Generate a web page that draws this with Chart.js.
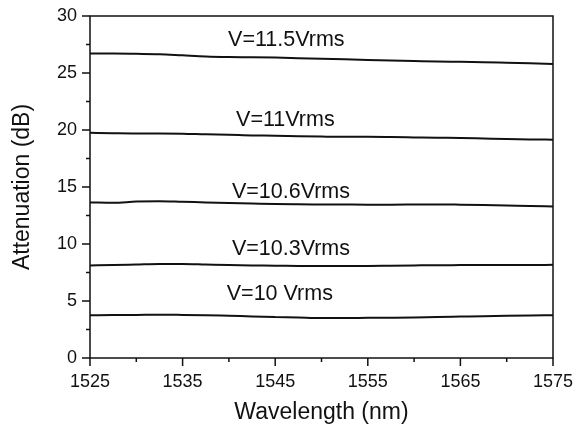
<!DOCTYPE html>
<html>
<head>
<meta charset="utf-8">
<script src="https://cdn.jsdelivr.net/npm/chart.js@4.4.0/dist/chart.umd.min.js"></script>
<style>
  html, body { margin: 0; padding: 0; background: #ffffff; }
  #c { display: block; }
</style>
</head>
<body>
<canvas id="c" width="573" height="429"></canvas>
<script>
// ---- data ----
const wavelength = [1525, 1527.5, 1530, 1532.5, 1535, 1537.5, 1540, 1542.5, 1545, 1547.5, 1550,
                    1552.5, 1555, 1557.5, 1560, 1562.5, 1565, 1567.5, 1570, 1572.5, 1575];
const att_11_5 = [26.70, 26.70, 26.68, 26.65, 26.55, 26.45, 26.40, 26.38, 26.35, 26.30, 26.25,
                  26.20, 26.15, 26.10, 26.05, 26.00, 25.98, 25.95, 25.90, 25.85, 25.80];
const att_11   = [19.75, 19.72, 19.70, 19.70, 19.68, 19.62, 19.58, 19.52, 19.50, 19.45, 19.42,
                  19.40, 19.40, 19.38, 19.35, 19.32, 19.30, 19.25, 19.20, 19.17, 19.15];
const att_10_6 = [13.65, 13.62, 13.72, 13.75, 13.70, 13.65, 13.60, 13.55, 13.50, 13.48, 13.47,
                  13.46, 13.45, 13.45, 13.46, 13.47, 13.45, 13.42, 13.38, 13.33, 13.30];
const att_10_3 = [8.12, 8.15, 8.20, 8.25, 8.25, 8.20, 8.15, 8.12, 8.10, 8.07, 8.06,
                  8.07, 8.08, 8.10, 8.12, 8.14, 8.15, 8.16, 8.16, 8.16, 8.17];
const att_10   = [3.75, 3.77, 3.78, 3.80, 3.78, 3.75, 3.70, 3.65, 3.60, 3.55, 3.50,
                  3.50, 3.52, 3.53, 3.55, 3.60, 3.63, 3.66, 3.70, 3.73, 3.75];

const seriesLabels = ["V=11.5Vrms", "V=11Vrms", "V=10.6Vrms", "V=10.3Vrms", "V=10 Vrms"];
const seriesValues = [att_11_5, att_11, att_10_6, att_10_3, att_10];
// label anchor positions in data units (wavelength, attenuation at text baseline)
const labelX = [1546.2, 1546.1, 1546.7, 1546.7, 1545.5];
const labelY = [27.37, 20.35, 14.07, 9.0, 5.06];

const xMajorTicks = [1525, 1535, 1545, 1555, 1565, 1575];
const xMinorTicks = [1530, 1540, 1550, 1560, 1570];
const yMajorTicks = [0, 5, 10, 15, 20, 25, 30];
const yMinorTicks = [2.5, 7.5, 12.5, 17.5, 22.5, 27.5];

const FONT = "'Liberation Sans', Arial, Helvetica, sans-serif";

const datasets = seriesValues.map((vals, i) => ({
  label: seriesLabels[i],
  data: wavelength.map((w, j) => ({ x: w, y: vals[j] })),
  borderColor: '#111111',
  borderWidth: 2,
  pointRadius: 0,
  fill: false,
  cubicInterpolationMode: 'monotone'
}));

const decorPlugin = {
  id: 'decor',
  afterDraw(chart) {
    const { ctx, chartArea: a, scales: { x, y } } = chart;
    ctx.save();
    ctx.strokeStyle = '#111111';
    ctx.lineWidth = 1.5;
    ctx.strokeRect(a.left, a.top, a.right - a.left, a.bottom - a.top);
    ctx.beginPath();
    yMajorTicks.forEach(v => { const p = y.getPixelForValue(v); ctx.moveTo(a.left - 8, p); ctx.lineTo(a.left, p); });
    yMinorTicks.forEach(v => { const p = y.getPixelForValue(v); ctx.moveTo(a.left - 4, p); ctx.lineTo(a.left, p); });
    xMajorTicks.forEach(v => { const p = x.getPixelForValue(v); ctx.moveTo(p, a.bottom); ctx.lineTo(p, a.bottom + 8); });
    xMinorTicks.forEach(v => { const p = x.getPixelForValue(v); ctx.moveTo(p, a.bottom); ctx.lineTo(p, a.bottom + 4); });
    ctx.stroke();
    ctx.fillStyle = '#111111';
    ctx.font = '21.5px ' + FONT;
    ctx.textAlign = 'center';
    ctx.textBaseline = 'alphabetic';
    seriesLabels.forEach((t, i) => {
      ctx.fillText(t, x.getPixelForValue(labelX[i]), y.getPixelForValue(labelY[i]));
    });
    ctx.restore();
  }
};

function zeroPad(s) { s.paddingTop = 0; s.paddingBottom = 0; s.paddingLeft = 0; s.paddingRight = 0; }

new Chart(document.getElementById('c'), {
  type: 'line',
  data: { datasets },
  options: {
    responsive: false,
    animation: false,
    devicePixelRatio: 1,
    layout: { padding: { top: 16, right: 20, left: 0, bottom: 0 } },
    plugins: { legend: { display: false }, tooltip: { enabled: false } },
    scales: {
      x: {
        type: 'linear',
        min: 1525, max: 1575,
        afterFit(s) { s.height = 71; zeroPad(s); },
        afterBuildTicks(s) { s.ticks = xMajorTicks.map(v => ({ value: v })); },
        grid: { display: false, drawTicks: false },
        border: { display: false },
        ticks: { color: '#111111', font: { size: 18, family: FONT }, padding: 13, maxRotation: 0,
                 callback: v => String(v) },
        title: { display: true, text: 'Wavelength (nm)', color: '#111111',
                 font: { size: 23, family: FONT }, padding: { top: 0, bottom: 3 } }
      },
      y: {
        min: 0, max: 30,
        afterFit(s) { s.width = 90; zeroPad(s); },
        afterBuildTicks(s) { s.ticks = yMajorTicks.map(v => ({ value: v })); },
        grid: { display: false, drawTicks: false },
        border: { display: false },
        ticks: { color: '#111111', font: { size: 18, family: FONT }, padding: 13,
                 callback: v => String(v) },
        title: { display: true, text: 'Attenuation (dB)', color: '#111111',
                 font: { size: 23, family: FONT }, padding: { top: 9, bottom: 0 } }
      }
    }
  },
  plugins: [decorPlugin]
});
</script>
</body>
</html>
